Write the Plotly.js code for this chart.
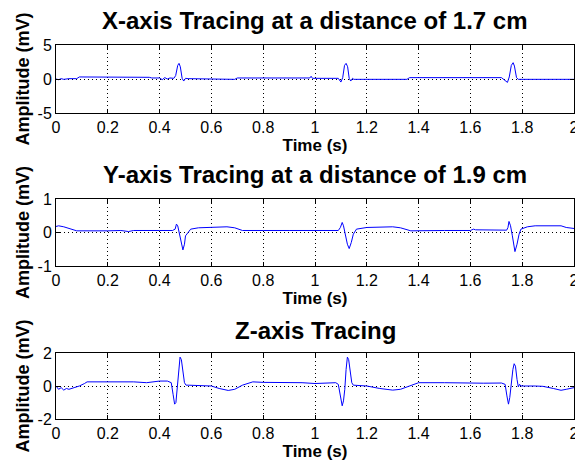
<!DOCTYPE html>
<html>
<head>
<meta charset="utf-8">
<script src="https://cdn.plot.ly/plotly-3.0.1.min.js"></script>
<style>html,body{margin:0;padding:0;background:#fff;}#chart{width:575px;height:462px;}</style>
</head>
<body>
<div id="chart"></div>
<script>
// ---- Data ----
const titles = ["X-axis Tracing at a distance of 1.7 cm", "Y-axis Tracing at a distance of 1.9 cm", "Z-axis Tracing"];
const xLabel = "Time (s)";
const yLabel = "Amplitude (mV)";
const yRanges = [[-5, 5], [-1, 1], [-2, 2]];
const yTickVals = [[-5, 0, 5], [-1, 0, 1], [-2, 0, 2]];
const yTickText = [["-5", "0", "5"], ["-1", "0", "1"], ["-2", "0", "2"]];

const tX = [0,0.01,0.02,0.03,0.05,0.08,0.09,0.2,0.21,0.36,0.37,0.40,0.41,0.42,0.43,0.44,0.455,0.462,0.47,0.475,0.48,0.487,0.493,0.50,0.51,0.595,0.60,0.69,0.70,0.98,0.985,0.99,1.09,1.10,1.107,1.114,1.12,1.126,1.132,1.138,1.145,1.15,1.355,1.365,1.72,1.735,1.743,1.75,1.758,1.765,1.77,1.778,1.785,2.0];
const vX = [0,-0.1,0.05,-0.05,0.05,0.05,0.3,0.3,0.25,0.25,0.15,0.15,-0.1,0.2,0,0.15,0.1,0.5,2.0,2.3,1.8,0.1,-0.3,0.1,0.05,0.05,-0.05,-0.05,0.15,0.15,0.4,0.1,0.1,-0.45,0.2,2.0,2.3,1.8,0.1,-0.3,0.1,-0.05,-0.05,0.2,0.2,-0.3,-0.5,0.3,2.0,2.4,1.9,0.2,-0.05,-0.05];

const tY = [0,0.01,0.03,0.05,0.07,0.08,0.2,0.25,0.28,0.3,0.4,0.45,0.46,0.465,0.47,0.476,0.482,0.49,0.496,0.50,0.51,0.52,0.55,0.6,0.66,0.69,0.72,0.8,0.85,0.9,1.0,1.09,1.098,1.105,1.11,1.118,1.125,1.132,1.14,1.148,1.16,1.2,1.25,1.3,1.33,1.37,1.5,1.6,1.612,1.62,1.74,1.745,1.749,1.755,1.762,1.768,1.772,1.78,1.788,1.795,1.82,1.85,1.95,1.97,2.0];
const vY = [0.18,0.2,0.17,0.12,0.06,0.05,0.05,0.06,0.03,0.06,0.06,0.06,0.1,0.25,0.2,-0.05,-0.3,-0.52,-0.35,-0.1,0,0.1,0.14,0.16,0.17,0.14,0.06,0.06,0.05,0.06,0.06,0.06,0.15,0.3,0.2,-0.1,-0.35,-0.48,-0.3,-0.05,0.1,0.15,0.16,0.17,0.14,0.05,0.06,0.06,0.1,0.08,0.07,0.15,0.33,0.2,-0.1,-0.45,-0.57,-0.35,-0.05,0.1,0.17,0.2,0.2,0.15,0.12];

const tZ = [0,0.01,0.02,0.03,0.04,0.05,0.07,0.09,0.11,0.12,0.2,0.3,0.35,0.38,0.4,0.43,0.445,0.452,0.458,0.463,0.468,0.474,0.479,0.484,0.49,0.496,0.502,0.51,0.6,0.63,0.665,0.69,0.72,0.76,0.8,0.9,0.95,1.0,1.05,1.08,1.09,1.098,1.105,1.11,1.115,1.12,1.125,1.13,1.136,1.142,1.148,1.2,1.25,1.3,1.33,1.37,1.4,1.5,1.6,1.65,1.72,1.734,1.741,1.747,1.752,1.758,1.764,1.769,1.774,1.78,1.785,1.79,1.795,1.85,1.88,1.92,1.95,1.97,2.0];
const vZ = [0,-0.2,-0.1,-0.25,-0.15,-0.2,-0.1,0,0.15,0.25,0.25,0.25,0.2,0.25,0.3,0.3,0.2,-0.5,-1.1,-1.0,-0.2,1.0,1.75,1.6,0.8,0.2,0.05,0.05,0,-0.15,-0.27,-0.2,0.05,0.25,0.22,0.22,0.2,0.15,0.2,0.2,0.1,-0.6,-1.2,-0.9,-0.2,1.0,1.75,1.6,0.8,0.2,0.05,0,-0.15,-0.25,-0.2,0.05,0.2,0.2,0.15,0.17,0.18,0.1,-0.6,-1.1,-0.7,0.2,1.0,1.35,1.2,0.4,-0.05,0.1,0,0,-0.02,-0.15,-0.26,-0.2,-0.1];

// ---- Chart ----
const series = [[tX, vX], [tY, vY], [tZ, vZ]];
const H = 462;
const panelPx = [[45, 113], [199, 266], [353, 419]];   // top, bottom in px
const titlePx = [21, 174, 330];
const FONT = "Liberation Sans, Arial, Helvetica, sans-serif";

const data = series.map((s, i) => ({
  x: s[0], y: s[1], type: "scatter", mode: "lines",
  line: {color: "#0000ff", width: 1},
  xaxis: i === 0 ? "x" : "x" + (i + 1),
  yaxis: i === 0 ? "y" : "y" + (i + 1),
  hoverinfo: "skip", showlegend: false
}));

const layout = {
  width: 575, height: H,
  margin: {l: 56, r: 1, t: 0, b: 0},
  paper_bgcolor: "#fff", plot_bgcolor: "#fff",
  font: {family: FONT, color: "#000"},
  showlegend: false,
  annotations: []
};

const common = {
  showline: true, linecolor: "#000", linewidth: 1, mirror: "ticks",
  ticks: "inside", ticklen: 4, tickcolor: "#000", tickwidth: 1,
  showgrid: true, gridcolor: "#000", gridwidth: 1, griddash: "1px,3px",
  zeroline: false, fixedrange: true,
  tickfont: {family: FONT, size: 16, color: "#000"}
};

for (let i = 0; i < 3; i++) {
  const sfx = i === 0 ? "" : String(i + 1);
  const top = panelPx[i][0], bot = panelPx[i][1];
  layout["xaxis" + sfx] = Object.assign({}, common, {
    anchor: "y" + sfx, domain: [0, 1],
    range: [0, 2], dtick: 0.2, tick0: 0,
    ticklabeloverflow: "allow",
    title: {text: xLabel, font: {family: FONT, size: 17, weight: "bold", color: "#000"}, standoff: 1}
  });
  layout["yaxis" + sfx] = Object.assign({}, common, {
    anchor: "x" + sfx, domain: [1 - bot / H, 1 - top / H],
    range: yRanges[i], tickmode: "array", tickvals: yTickVals[i], ticktext: yTickText[i],
    title: {text: yLabel, font: {family: FONT, size: 18, weight: "bold", color: "#000"}, standoff: 3}
  });
  layout.annotations.push({
    text: titles[i], xref: "paper", yref: "paper", x: 0.5, y: 1 - titlePx[i] / H,
    xanchor: "center", yanchor: "middle", showarrow: false,
    font: {family: FONT, size: 24, weight: "bold", color: "#000"}
  });
}

Plotly.newPlot("chart", data, layout, {displayModeBar: false, staticPlot: true});
</script>
</body>
</html>
